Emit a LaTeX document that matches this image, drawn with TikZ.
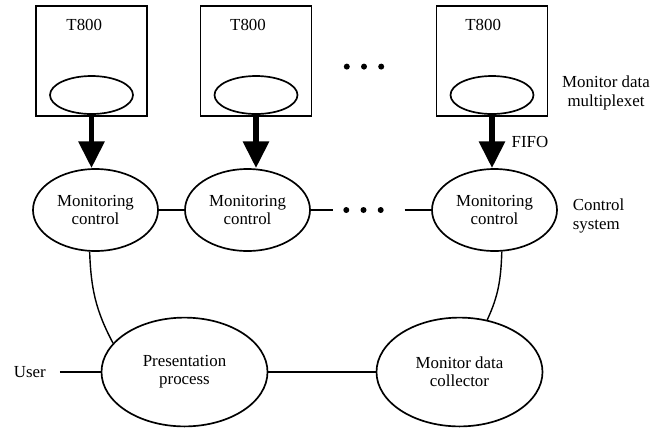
\documentclass[tikz,border=0pt]{standalone}
\usepackage{fontspec}
\setmainfont{Liberation Serif}
\usetikzlibrary{positioning}
\usetikzlibrary{shapes.geometric}
\usetikzlibrary{arrows.meta}
\tikzset{
	cpu/.style={draw, rectangle, line width=1pt, minimum width=2.775cm, minimum height=2.75cm},
	mux/.style={draw, ellipse, line width=1.2pt, minimum width=2.075cm, minimum height=0.95cm},
	ctrl/.style={draw, ellipse, line width=1.2pt, minimum width=3.125cm, minimum height=2.05cm, align=center},
	proc/.style={draw, ellipse, line width=1.2pt, minimum width=4.15cm, minimum height=2.72cm, align=center},
	% thick arrows out of the multiplexers
	feed/.style={line width=4.25pt, -{Triangle[width=17.7pt, length=19pt]}},
	wire/.style={line width=1pt},
	note/.style={align=center},
}

\begin{document}
\begin{tikzpicture}[font=\fontsize{12}{13}\selectfont]
		\useasboundingbox (-2.2875,1.525) rectangle (13.9625,-9.2);
		
		\node (p1) [cpu] {};
		\node (p2) [cpu, right of=p1, xshift=3.1125cm] {};
		\node (p3) [cpu, right of=p2, xshift=4.9cm] {};
		
		\node (t1) [above of=p1, yshift=-0.1cm, xshift=-0.18cm] {T800};
		\node (t2) [above of=p2, yshift=-0.1cm, xshift=-0.2cm] {T800};
		\node (t3) [above of=p3, yshift=-0.1cm, xshift=-0.22cm] {T800};
		
		\node (e1) [mux, below of=p1, yshift=0.15cm] {};
		\node (e2) [mux, below of=p2, yshift=0.15cm] {};
		\node (e3) [mux, below of=p3, yshift=0.15cm] {};
		
		\node (m1) [ctrl, below of=e1, yshift=-1.875cm, xshift=0.1cm] {Monitoring\\control};
		\node (m2) [ctrl, right of=m1, xshift=2.8cm] {Monitoring\\control};
		\node (m3) [ctrl, right of=m2, xshift=5.175cm] {Monitoring\\control};
		
		\node (pres) [proc, below of=m1, xshift=2.225cm, yshift=-3.05cm] {Presentation\\process};
		\node (coll) [proc, right of=pres, xshift=5.875cm] {Monitor data\\collector};
		\node (user) [left=1.25cm of pres] {User};
		
		\node (fifo) [right of=e3, xshift=-0.05cm, yshift=-1.175cm] {FIFO};
		\node (mlab) [note, right of=p3, xshift=1.85cm, yshift=-0.8cm] {Monitor data\\multiplexet};
		\node (clab) [align=left, right=0.25cm of m3, yshift=-0.15cm] {Control\\system};
		
		% gaps between the processors
		\node (g1) [coordinate, right of=p2, xshift=1.7cm, yshift=-0.14cm] {};
		\node (g2) [coordinate, right of=m2, xshift=1.9cm] {};
		\node (c1) [coordinate, left of=g2, xshift=0.225cm] {};
		\node (c2) [coordinate, right of=g2, xshift=0.025cm] {};
		\foreach \dx in {-0.43,0,0.43} {
			\fill ([xshift=\dx cm]g1) circle (0.075cm);
			\fill ([xshift=\dx cm]g2) circle (0.075cm);
		}
		
		\begin{scope}[feed]
			\draw (e1.south) -- (e1.south |- m1.north);
			\draw (e2.south) -- (e2.south |- m2.north);
			\draw (e3.south) -- (e3.south |- m3.north);
		\end{scope}
		
		\begin{scope}[wire]
			\draw (m1) -- (m2);
			\draw (m2) -- (c1);
			\draw (c2) -- (m3);
			\draw (m1.262) to[out=-88, in=118] (pres.158);
			\draw (m3.280) to[out=-92, in=65] (coll.62);
			\draw (pres) -- (coll);
			\draw [shorten <=0.23cm] (user) -- (pres);
		\end{scope}
	\end{tikzpicture}
\end{document}
